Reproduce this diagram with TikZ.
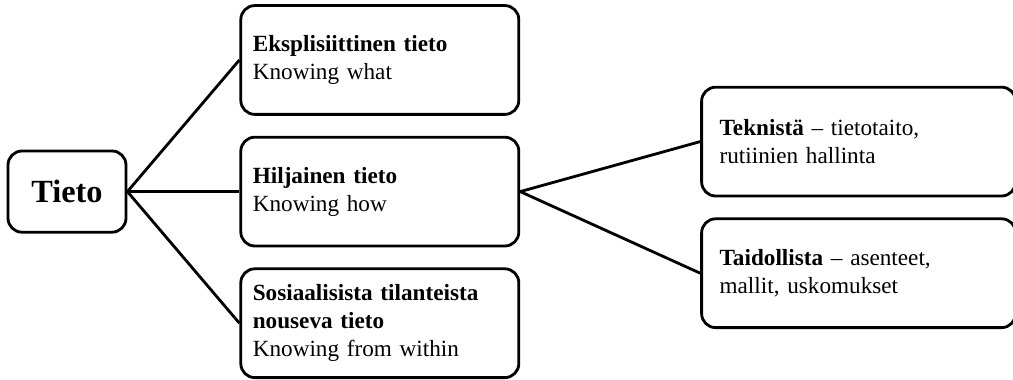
\documentclass[tikz,border=0pt]{standalone}
\usepackage{fontspec}
\setmainfont{Liberation Serif}
\usetikzlibrary{positioning}

\begin{document}
\begin{tikzpicture}[
  font=\fontsize{16.5}{20}\selectfont,
  box/.style={draw=black, line width=2pt, fill=white, align=left, rounded corners=0.35cm, minimum height=2.72cm},
  midbox/.style={box, inner xsep=0.3cm, text width=6.35cm},
  sidebox/.style={box, inner xsep=0.45cm, text width=6.95cm},
  link/.style={line width=2pt, black}
]
\useasboundingbox (-1.675,-4.69) rectangle (23.65,4.79);
\node[box, align=center, minimum width=2.95cm, minimum height=2.03cm, font=\fontsize{23}{27}\selectfont\bfseries] (tieto) at (0,0) {Tieto};
\node[midbox, right=2.8cm of tieto] (hiljainen) {\textbf{Hiljainen tieto}\\Knowing how};
\node[midbox, above=0.5cm of hiljainen] (eksplisiit) {\textbf{Eksplisiittinen tieto}\\Knowing what};
\node[midbox, below=0.5cm of hiljainen] (sosiaal) {\textbf{Sosiaalisista tilanteista}\\\textbf{nouseva tieto}\\Knowing from within};
\node[sidebox, right=4.5cm of hiljainen, yshift=1.25cm] (tekn) {\textbf{Teknistä} – tietotaito,\\rutiinien hallinta};
\node[sidebox, below=0.5cm of tekn] (taid) {\textbf{Taidollista} – asenteet,\\mallit, uskomukset};
\draw[link] (tieto.east) -- (eksplisiit.west);
\draw[link] (tieto.east) -- (hiljainen.west);
\draw[link] (tieto.east) -- (sosiaal.west);
\draw[link] (hiljainen.east) -- (tekn.west);
\draw[link] (hiljainen.east) -- (taid.west);
\end{tikzpicture}
\end{document}
